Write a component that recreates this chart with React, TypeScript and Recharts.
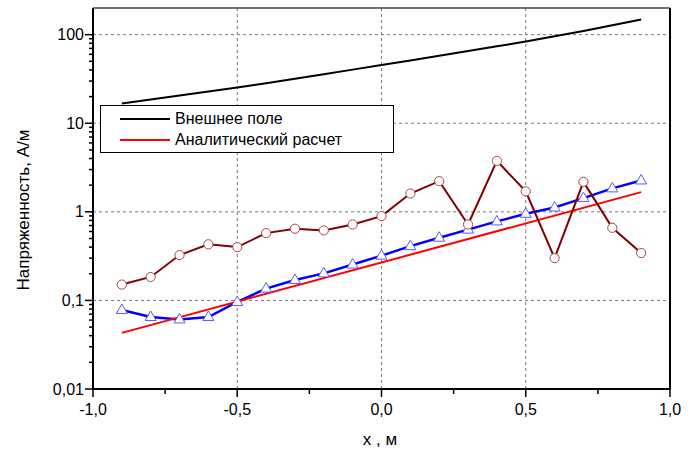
import React from 'react';
import { LineChart, Line, XAxis, YAxis, ReferenceLine, Legend } from 'recharts';

const xValues = [-0.9, -0.8, -0.7, -0.6, -0.5, -0.4, -0.3, -0.2, -0.1, 0, 0.1, 0.2, 0.3, 0.4, 0.5, 0.6, 0.7, 0.8, 0.9];
const externalField = [16.7, 18.5, 20.6, 22.8, 25.3, 28.3, 31.8, 35.7, 40.3, 45.4, 51.2, 57.8, 65.3, 73.8, 83.6, 96, 110, 128, 148];
const analyticX = [-0.9, 0.9];
const analyticValues = [0.043, 1.67];
const blueValues = [0.078, 0.065, 0.061, 0.065, 0.096, 0.136, 0.17, 0.202, 0.254, 0.32, 0.41, 0.51, 0.63, 0.78, 0.95, 1.12, 1.43, 1.84, 2.26];
const darkRedValues = [0.151, 0.184, 0.325, 0.43, 0.4, 0.575, 0.645, 0.617, 0.72, 0.895, 1.61, 2.22, 0.72, 3.76, 1.7, 0.3, 2.18, 0.66, 0.343];

const yMajorTicks = [0.01, 0.1, 1, 10, 100];
const yMinorTicks = [0.02, 0.03, 0.04, 0.05, 0.06, 0.07, 0.08, 0.09, 0.2, 0.3, 0.4, 0.5, 0.6, 0.7, 0.8, 0.9, 2, 3, 4, 5, 6, 7, 8, 9, 20, 30, 40, 50, 60, 70, 80, 90];
const xMajorTicks = [-1, -0.5, 0, 0.5, 1];
const xMinorTicks = [-0.75, -0.25, 0.25, 0.75];
const yGridValues = [0.1, 1, 10, 100];
const xGridValues = [-0.5, 0, 0.5];
const yDomain = [0.01, 200];
const xDomain = [-1, 1];

const seriesNames = {
  external: 'Внешнее поле',
  analytic: 'Аналитический расчет',
  blue: 'Расчет 1',
  darkRed: 'Расчет 2',
};
const legendOrder = [seriesNames.external, seriesNames.analytic];
const yTitle = 'Напряженность, А/м';
const xTitle = 'x , м';

const FONT = '"Liberation Sans", Arial, sans-serif';

const externalData = xValues.map((x, i) => ({ x, y: externalField[i] }));
const analyticData = analyticX.map((x, i) => ({ x, y: analyticValues[i] }));
const blueData = xValues.map((x, i) => ({ x, y: blueValues[i] }));
const darkRedData = xValues.map((x, i) => ({ x, y: darkRedValues[i] }));

const fmtY = (v: number) => String(v).replace('.', ',');
const fmtX = (v: number) => v.toFixed(1).replace('.', ',');

const YTick = (props: any) => {
  const { x, y, payload } = props;
  const v = payload.value;
  const major = yMajorTicks.includes(v);
  return (
    <g>
      <line x1={x - (major ? 8 : 4)} x2={x} y1={y} y2={y} stroke="#000" strokeWidth={1.5} />
      {major && (
        <text x={x - 9} y={y} textAnchor="end" dominantBaseline="central" fontSize={16} fontFamily={FONT} fill="#000">
          {fmtY(v)}
        </text>
      )}
    </g>
  );
};

const XTick = (props: any) => {
  const { x, y, payload } = props;
  const v = payload.value;
  const major = xMajorTicks.includes(v);
  return (
    <g>
      <line x1={x} x2={x} y1={y} y2={y + (major ? 8 : 5)} stroke="#000" strokeWidth={1.5} />
      {major && (
        <text x={x} y={y + 25.5} textAnchor="middle" fontSize={16} fontFamily={FONT} fill="#000">
          {fmtX(v)}
        </text>
      )}
    </g>
  );
};

const Triangle = (props: any) => {
  const { cx, cy, index } = props;
  if (cx == null || cy == null) return <g key={index} />;
  return (
    <polygon
      key={index}
      points={`${cx},${cy - 6} ${cx - 5.5},${cy + 3.5} ${cx + 5.5},${cy + 3.5}`}
      fill="#fff"
      stroke="#5a5aff"
      strokeWidth={1}
    />
  );
};

const Circle = (props: any) => {
  const { cx, cy, index } = props;
  if (cx == null || cy == null) return <g key={index} />;
  return <circle key={index} cx={cx} cy={cy} r={4.6} fill="#fff" stroke="#a84848" strokeWidth={1} />;
};

const LegendBox = (props: any) => {
  const payload: any[] = props.payload || [];
  const items = legendOrder
    .map((name) => payload.find((p: any) => p.value === name))
    .filter(Boolean);
  return (
    <div
      style={{
        boxSizing: 'border-box',
        width: 294,
        height: 48,
        border: '1.5px solid #000',
        background: '#fff',
        paddingTop: 3,
        fontFamily: FONT,
      }}
    >
      {items.map((p: any) => (
        <div key={p.value} style={{ display: 'flex', alignItems: 'center', height: 20.7, paddingLeft: 19 }}>
          <div style={{ width: 50, height: 2, background: p.color }} />
          <span style={{ marginLeft: 5, fontSize: 16, color: '#000', lineHeight: '20px' }}>{p.value}</span>
        </div>
      ))}
    </div>
  );
};

export default function App() {
  return (
    <div style={{ position: 'absolute', left: 0, top: 0, width: 696, height: 450, background: '#fff', fontFamily: FONT }}>
      <LineChart width={696} height={450} margin={{ top: 8, right: 26, bottom: 0, left: 0 }}>
        <XAxis
          type="number"
          dataKey="x"
          domain={xDomain}
          ticks={[...xMajorTicks, ...xMinorTicks].sort((a, b) => a - b)}
          interval={0}
          allowDataOverflow
          height={61}
          tickSize={0}
          tickMargin={0}
          tickLine={false}
          tick={<XTick />}
          axisLine={{ stroke: '#000', strokeWidth: 2 }}
        />
        <YAxis
          type="number"
          dataKey="y"
          scale="log"
          domain={yDomain}
          allowDataOverflow
          ticks={[...yMajorTicks, ...yMinorTicks].sort((a, b) => a - b)}
          interval={0}
          width={93}
          tickSize={0}
          tickMargin={0}
          tickLine={false}
          tick={<YTick />}
          axisLine={{ stroke: '#000', strokeWidth: 2 }}
        />
        {yGridValues.map((v) => (
          <ReferenceLine key={'gy' + v} y={v} stroke="#777" strokeDasharray="3 3" strokeWidth={1} />
        ))}
        {xGridValues.map((v) => (
          <ReferenceLine key={'gx' + v} x={v} stroke="#777" strokeDasharray="3 3" strokeWidth={1} />
        ))}
        <ReferenceLine y={yDomain[1]} stroke="#444" strokeWidth={1.5} />
        <ReferenceLine x={xDomain[1]} stroke="#000" strokeWidth={2} />
        <Line
          data={externalData}
          dataKey="y"
          name={seriesNames.external}
          stroke="#000"
          strokeWidth={2}
          dot={false}
          isAnimationActive={false}
        />
        <Line
          data={blueData}
          dataKey="y"
          name={seriesNames.blue}
          stroke="#0000ff"
          strokeWidth={2.5}
          dot={Triangle}
          legendType="none"
          isAnimationActive={false}
        />
        <Line
          data={analyticData}
          dataKey="y"
          name={seriesNames.analytic}
          stroke="#ff0000"
          strokeWidth={2}
          dot={false}
          isAnimationActive={false}
        />
        <Line
          data={darkRedData}
          dataKey="y"
          name={seriesNames.darkRed}
          stroke="#800000"
          strokeWidth={2}
          dot={Circle}
          legendType="none"
          isAnimationActive={false}
        />
        <Legend
          layout="horizontal"
          verticalAlign="middle"
          align="center"
          content={<LegendBox />}
          wrapperStyle={{ position: 'absolute', left: 100, top: 105, width: 294, height: 48 }}
        />
        <text x={23} y={210} transform="rotate(-90 23 210)" textAnchor="middle" dominantBaseline="central" fontSize={17} fontFamily={FONT} fill="#000">
          {yTitle}
        </text>
        <text x={380} y={445} textAnchor="middle" fontSize={17} fontFamily={FONT} fill="#000">
          {xTitle}
        </text>
      </LineChart>
    </div>
  );
}
